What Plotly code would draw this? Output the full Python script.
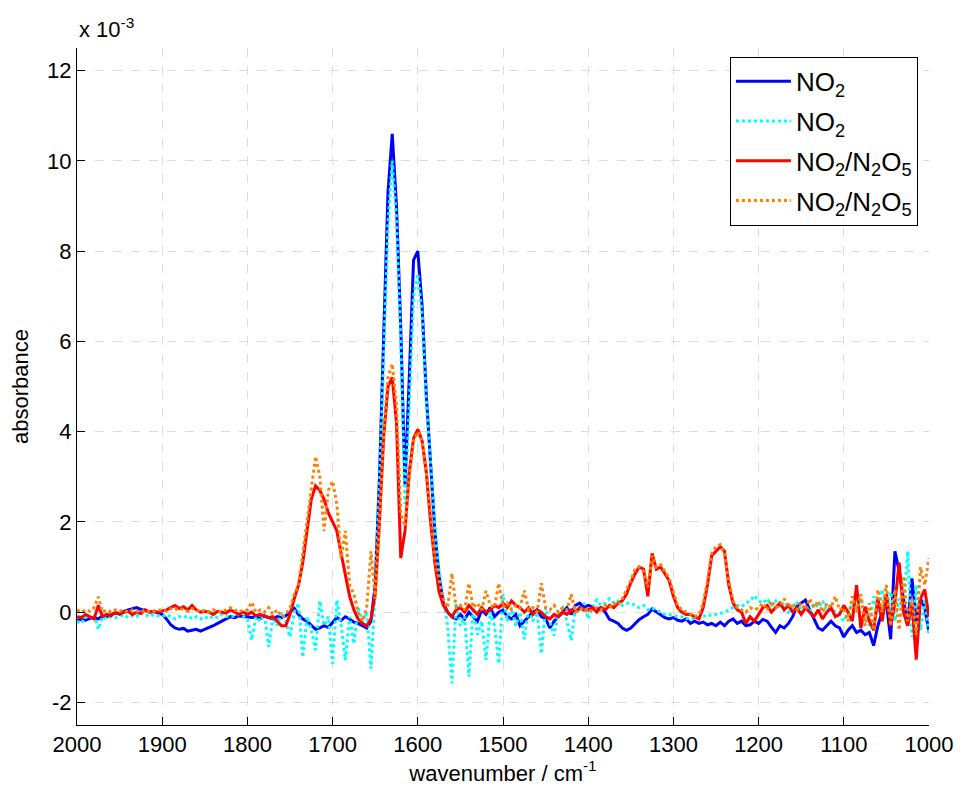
import plotly.graph_objects as go

# wavenumber grid (cm^-1), 2000 -> 1000 in steps of 5
wavenumber = list(range(2000, 999, -5))

# absorbance values in units of 1e-3
no2_solid = [
    -0.18, -0.16, -0.18, -0.14, -0.12, -0.15, -0.08, -0.10, -0.05, -0.02,
    -0.04, 0.02, 0.05, 0.08, 0.10, 0.06, 0.04, 0.00, 0.02, -0.02,
    -0.05, -0.15, -0.28, -0.35, -0.38, -0.36, -0.42, -0.40, -0.38, -0.42,
    -0.38, -0.35, -0.30, -0.25, -0.20, -0.15, -0.10, -0.12, -0.08, -0.10,
    -0.10, -0.12, -0.10, -0.14, -0.08, -0.12, -0.15, -0.10, -0.12, -0.08,
    0.00, 0.08, -0.05, -0.15, -0.20, -0.28, -0.38, -0.35, -0.30, -0.34,
    -0.22, -0.12, -0.18, -0.10, -0.15, -0.22, -0.25, -0.30, -0.35, -0.20,
    0.60, 3.00, 6.20, 9.30, 10.60, 9.00, 6.30, 2.80, 5.20, 7.80,
    8.00, 6.80, 4.80, 3.20, 1.80, 0.80, 0.20, 0.00, -0.10, -0.15,
    -0.05, -0.15, 0.00, -0.10, -0.20, 0.05, -0.05, 0.10, -0.10, 0.00,
    0.05, -0.10, -0.15, -0.05, -0.30, -0.20, -0.10, 0.00, 0.05, -0.10,
    -0.15, -0.35, -0.20, -0.10, 0.00, 0.10, -0.05, 0.15, 0.20, 0.10,
    0.15, 0.12, 0.05, 0.10, 0.00, -0.16, -0.20, -0.25, -0.35, -0.40,
    -0.35, -0.25, -0.16, -0.10, -0.05, 0.07, 0.00, -0.05, -0.12, -0.15,
    -0.12, -0.18, -0.20, -0.15, -0.25, -0.20, -0.25, -0.22, -0.28, -0.25,
    -0.30, -0.22, -0.30, -0.20, -0.15, -0.25, -0.20, -0.30, -0.28, -0.20,
    -0.25, -0.16, -0.20, -0.33, -0.45, -0.30, -0.35, -0.25, -0.10, 0.13,
    0.20, 0.27, 0.05, -0.15, -0.35, -0.40, -0.30, -0.20, -0.30, -0.35,
    -0.55, -0.40, -0.30, -0.45, -0.40, -0.50, -0.45, -0.74, -0.30, 0.00,
    0.20, -0.60, 1.35, 0.90, 0.30, -0.30, 0.75, -0.20, 0.30, 0.10,
    -0.45,
]

no2_dotted = [
    -0.20, -0.25, -0.10, -0.15, -0.05, -0.38, -0.10, -0.15, -0.10, -0.12,
    -0.10, -0.05, -0.12, -0.08, -0.10, 0.00, -0.05, -0.10, -0.05, -0.08,
    -0.10, -0.05, -0.10, -0.15, -0.10, -0.12, -0.08, -0.15, -0.10, -0.15,
    -0.10, -0.15, -0.08, -0.12, -0.05, -0.10, -0.08, -0.10, -0.05, -0.10,
    -0.15, -0.62, -0.10, -0.20, -0.05, -0.77, -0.10, -0.30, 0.00, -0.20,
    -0.55, 0.00, 0.20, -1.00, -0.10, -0.40, -0.84, 0.25, -0.30, -0.10,
    -1.14, 0.27, -0.30, -1.06, -0.10, -0.70, 0.10, -0.20, 0.00, -1.25,
    0.50, 2.80, 5.80, 8.60, 10.00, 8.70, 6.00, 2.40, 4.60, 7.00,
    7.50, 6.60, 4.70, 3.30, 1.90, 0.90, 0.30, -0.30, -1.57, 0.20,
    -0.30, -0.10, -1.43, 0.10, -0.50, -0.20, -1.06, 0.00, -0.30, -1.14,
    0.40, -0.20, 0.10, -0.30, 0.00, -0.60, 0.10, -0.20, 0.00, -0.92,
    0.10, -0.20, -0.52, 0.00, 0.10, -0.20, -0.63, 0.10, 0.00, 0.20,
    -0.15, 0.10, 0.27, 0.15, 0.20, 0.30, 0.20, 0.25, 0.15, 0.20,
    0.20, 0.15, 0.10, 0.15, 0.05, 0.09, 0.05, 0.00, -0.05, -0.05,
    -0.07, -0.10, -0.10, -0.15, -0.12, -0.15, -0.12, -0.10, -0.05, -0.08,
    -0.05, -0.02, 0.00, 0.05, 0.10, 0.15, 0.12, 0.20, 0.25, 0.37,
    0.25, 0.20, 0.30, 0.15, 0.25, 0.10, 0.20, 0.00, 0.10, 0.20,
    0.05, 0.15, 0.00, 0.20, 0.10, 0.25, 0.05, 0.10, 0.00, -0.10,
    -0.20, 0.00, 0.20, 0.10, 0.30, 0.00, -0.30, 0.35, 0.00, 0.50,
    0.10, 0.45, -0.20, 0.30, 0.00, 1.35, -0.55, 0.60, -0.40, 0.30,
    -0.50,
]

mix_solid = [
    -0.10, -0.12, -0.05, -0.10, -0.15, 0.15, -0.10, -0.05, -0.08, 0.00,
    -0.05, 0.00, 0.02, -0.05, 0.00, -0.03, 0.05, 0.00, 0.02, 0.00,
    0.02, 0.05, 0.10, 0.15, 0.08, 0.12, 0.05, 0.15, 0.05, 0.00,
    0.02, 0.00, -0.05, 0.02, 0.00, -0.02, 0.05, 0.00, -0.05, 0.00,
    -0.05, 0.00, -0.08, -0.05, -0.10, -0.12, -0.10, -0.20, -0.30, -0.30,
    -0.05, 0.30, 0.60, 1.10, 1.80, 2.50, 2.80, 2.70, 2.50, 2.20,
    2.00, 1.80, 1.30, 0.80, 0.35, 0.05, -0.15, -0.25, -0.30, -0.15,
    0.40, 2.00, 3.90, 5.00, 5.20, 4.20, 1.20, 1.80, 3.10, 3.85,
    4.05, 3.80, 3.10, 2.00, 1.10, 0.45, 0.15, 0.00, -0.10, 0.05,
    0.10, 0.00, 0.15, 0.05, -0.05, 0.10, 0.00, 0.05, 0.15, 0.10,
    0.20, 0.10, 0.25, 0.15, 0.10, 0.00, 0.10, -0.05, 0.05, 0.00,
    -0.10, -0.15, -0.05, -0.10, 0.00, -0.05, 0.05, 0.00, 0.10, 0.05,
    0.05, 0.10, 0.00, 0.10, 0.05, 0.15, 0.10, 0.20, 0.25, 0.40,
    0.65, 0.85, 1.00, 0.95, 0.35, 1.30, 0.95, 1.00, 0.85, 0.70,
    0.35, 0.10, 0.00, -0.05, -0.05, -0.10, -0.15, 0.10, 0.60, 1.25,
    1.35, 1.45, 1.35, 0.60, 0.20, 0.05, 0.00, -0.25, -0.10, -0.20,
    -0.05, 0.10, 0.15, 0.00, 0.10, 0.20, 0.05, 0.15, 0.00, 0.10,
    -0.05, 0.10, 0.00, -0.10, 0.05, -0.15, 0.00, 0.10, -0.10, -0.05,
    0.15, 0.00, -0.20, 0.60, -0.35, 0.12, -0.20, -0.40, 0.30, -0.20,
    0.40, -0.30, 0.20, 1.10, 0.00, -0.30, 0.20, -1.05, 0.30, 0.50,
    -0.10,
]

mix_dotted = [
    0.05, 0.00, 0.05, 0.02, 0.10, 0.34, 0.00, 0.05, 0.00, 0.05,
    0.02, 0.05, 0.00, 0.05, 0.02, 0.00, 0.05, 0.00, 0.02, 0.05,
    0.05, 0.02, 0.08, 0.05, 0.10, 0.05, 0.02, 0.08, 0.05, 0.00,
    0.05, 0.00, 0.05, 0.02, 0.00, 0.05, 0.10, 0.05, 0.00, 0.05,
    0.05, 0.22, 0.00, 0.05, 0.00, 0.10, -0.05, 0.05, -0.10, -0.05,
    0.10, 0.40, 0.60, 1.30, 2.00, 2.70, 3.45, 3.00, 1.80, 2.70,
    2.90, 2.40, 1.20, 1.80, 0.60, 0.40, 0.00, -0.20, 0.10, 1.35,
    0.30, 2.00, 4.00, 5.20, 5.50, 4.60, 2.20, 1.90, 3.00, 3.80,
    4.00, 3.80, 3.10, 2.20, 1.20, 0.70, 0.30, 0.10, 0.86, 0.10,
    0.15, 0.05, 0.64, 0.10, 0.20, 0.05, 0.47, 0.15, 0.10, 0.64,
    0.10, 0.20, 0.05, 0.15, 0.10, 0.48, 0.05, 0.10, 0.00, 0.64,
    0.10, 0.05, 0.15, 0.00, 0.10, 0.05, 0.40, 0.00, 0.05, 0.10,
    0.00, 0.05, 0.10, 0.05, 0.15, 0.10, 0.20, 0.15, 0.30, 0.50,
    0.70, 0.95, 1.00, 0.90, 0.55, 1.25, 1.00, 1.05, 0.90, 0.75,
    0.45, 0.15, 0.05, 0.00, -0.05, -0.10, -0.05, 0.20, 0.70, 1.30,
    1.45, 1.50, 1.30, 0.70, 0.25, 0.10, 0.05, 0.00, 0.10, 0.05,
    0.10, 0.20, 0.05, 0.25, 0.10, 0.15, 0.30, 0.10, 0.20, 0.05,
    0.20, 0.05, 0.30, 0.10, 0.25, 0.00, 0.20, 0.10, 0.35, 0.05,
    0.10, -0.20, 0.35, 0.00, 0.40, -0.30, 0.20, -0.40, 0.50, 0.00,
    0.60, -0.30, 0.50, -0.40, 0.80, -0.20, 0.30, -0.50, 1.00, 0.60,
    1.20,
]

series_names = ["NO<sub>2</sub>", "NO<sub>2</sub>",
                "NO<sub>2</sub>/N<sub>2</sub>O<sub>5</sub>",
                "NO<sub>2</sub>/N<sub>2</sub>O<sub>5</sub>"]
series_values = [no2_solid, no2_dotted, mix_solid, mix_dotted]
series_colors = ["#0000ff", "#00ffff", "#ff0000", "#ff8000"]
series_dash = ["solid", "dot", "solid", "dot"]

x_ticks = list(range(2000, 999, -100))
y_ticks = list(range(-2, 13, 2))

fig = go.Figure()
for i, (name, vals, col, dash) in enumerate(zip(series_names, series_values, series_colors, series_dash)):
    fig.add_trace(go.Scatter(
        x=wavenumber, y=vals, mode="lines", name=name,
        legendgroup=f"g{i}",
        line=dict(color=col, width=3, dash=dash),
    ))

FONT = "Liberation Sans, Arial, sans-serif"
fig.update_layout(
    width=965, height=791,
    margin=dict(l=77, r=30, t=48, b=66),
    paper_bgcolor="white", plot_bgcolor="white",
    font=dict(family=FONT, size=22, color="black"),
    showlegend=True,
    legend=dict(
        x=0.987, y=0.987, xanchor="right", yanchor="top",
        bgcolor="white", bordercolor="black", borderwidth=1,
        font=dict(family=FONT, size=26, color="black"),
        tracegroupgap=3, itemwidth=55,
    ),
    xaxis=dict(
        range=[2000, 1000], autorange=False,
        tickmode="array", tickvals=x_ticks, ticktext=[str(t) for t in x_ticks],
        ticks="inside", ticklen=8, tickcolor="black",
        showline=True, linecolor="black", linewidth=1,
        showgrid=True, gridcolor="#dcdcdc", griddash="dash", gridwidth=1,
        zeroline=False,
        title=dict(text="wavenumber / cm<sup>-1</sup>", standoff=4,
                   font=dict(size=22)),
        tickfont=dict(size=22),
    ),
    yaxis=dict(
        range=[-2.5, 12.5], autorange=False,
        tickmode="array", tickvals=y_ticks, ticktext=[str(t) for t in y_ticks],
        ticks="inside", ticklen=8, tickcolor="black",
        showline=True, linecolor="black", linewidth=1,
        showgrid=True, gridcolor="#dcdcdc", griddash="dash", gridwidth=1,
        zeroline=False,
        title=dict(text="absorbance", standoff=12, font=dict(size=22)),
        tickfont=dict(size=22),
    ),
    annotations=[dict(
        text="x 10<sup>-3</sup>", xref="paper", yref="paper",
        x=0.0, y=1.0, xanchor="left", yanchor="bottom", yshift=4,
        showarrow=False, font=dict(family=FONT, size=22, color="black"),
    )],
)

fig.write_html("out.html")
